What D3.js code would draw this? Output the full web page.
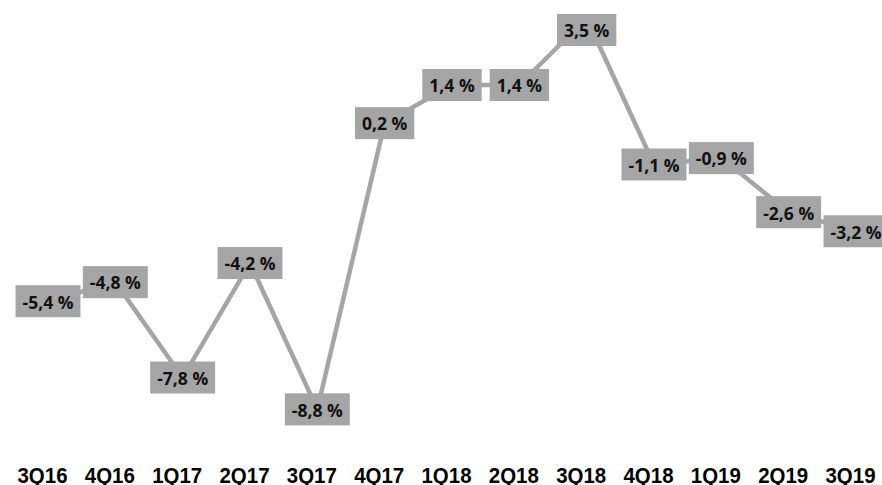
<!DOCTYPE html>
<html>
<head>
<meta charset="utf-8">
<script src="https://cdn.jsdelivr.net/npm/d3@7"></script>
<style>
  body { margin: 0; background: #fff; }
  svg { display: block; }
  .tick text { font-family: 'Liberation Sans', Arimo, Arial, sans-serif; font-size: 22px; font-weight: 700; }
</style>
</head>
<body>
<svg id="chart" width="882" height="485"></svg>
<script>
const quarters = ['3Q16', '4Q16', '1Q17', '2Q17', '3Q17', '4Q17', '1Q18', '2Q18', '3Q18', '4Q18', '1Q19', '2Q19', '3Q19'];
const changes = [-5.4, -4.8, -7.8, -4.2, -8.8, 0.2, 1.4, 1.4, 3.5, -1.1, -0.9, -2.6, -3.2];

const svg = d3.select('#chart');
const grey = '#a5a5a5';

const x = d3.scalePoint()
            .domain(quarters)
            .range([48, 856]);

const y = d3.scaleLinear()
            .domain([-10, 4])
            .range([447.5, 2.3]);

const points = quarters.map((q, i) => ({ q: q, v: changes[i] }));

// line
const line = d3.line()
               .x(d => x(d.q))
               .y(d => y(d.v));

svg.append('path')
   .datum(points)
   .attr('d', line)
   .attr('fill', 'none')
   .attr('stroke', grey)
   .attr('stroke-width', 4.5)
   .attr('stroke-linejoin', 'round');

// category axis, no line or ticks
const axis = svg.append('g')
                .attr('transform', 'translate(0, 482.5)')
                .call(d3.axisBottom(x).tickSize(0).tickPadding(0));
axis.select('.domain').remove();
axis.attr('font-family', null).attr('font-size', null);
axis.selectAll('text')
    .attr('dx', -6)
    .attr('dy', 0)
    .attr('y', 0)
    .attr('fill', '#000')
    .attr('textLength', 50)
    .attr('lengthAdjust', 'spacingAndGlyphs');

// data labels in grey boxes
const fmt = v => d3.format('.1f')(v).replace('.', ',').replace('−', '-') + ' %';

const labels = svg.selectAll('g.label')
                  .data(points)
                  .enter()
                  .append('g')
                  .attr('class', 'label')
                  .attr('transform', d => 'translate(' + x(d.q) + ', ' + Math.max(y(d.v), 30) + ')');

labels.append('rect')
      .attr('fill', grey);

labels.append('text')
      .text(d => fmt(d.v))
      .attr('text-anchor', 'middle')
      .attr('dy', '0.42em')
      .attr('fill', '#111')
      .style('font-family', '"Open Sans", sans-serif')
      .style('font-size', '17.5px')
      .style('font-weight', 'bold');

labels.each(function() {
    const g = d3.select(this);
    const w = g.select('text').node().getComputedTextLength() + 14;
    g.select('rect')
     .attr('x', -w / 2)
     .attr('y', -16)
     .attr('width', w)
     .attr('height', 32);
});
</script>
</body>
</html>
